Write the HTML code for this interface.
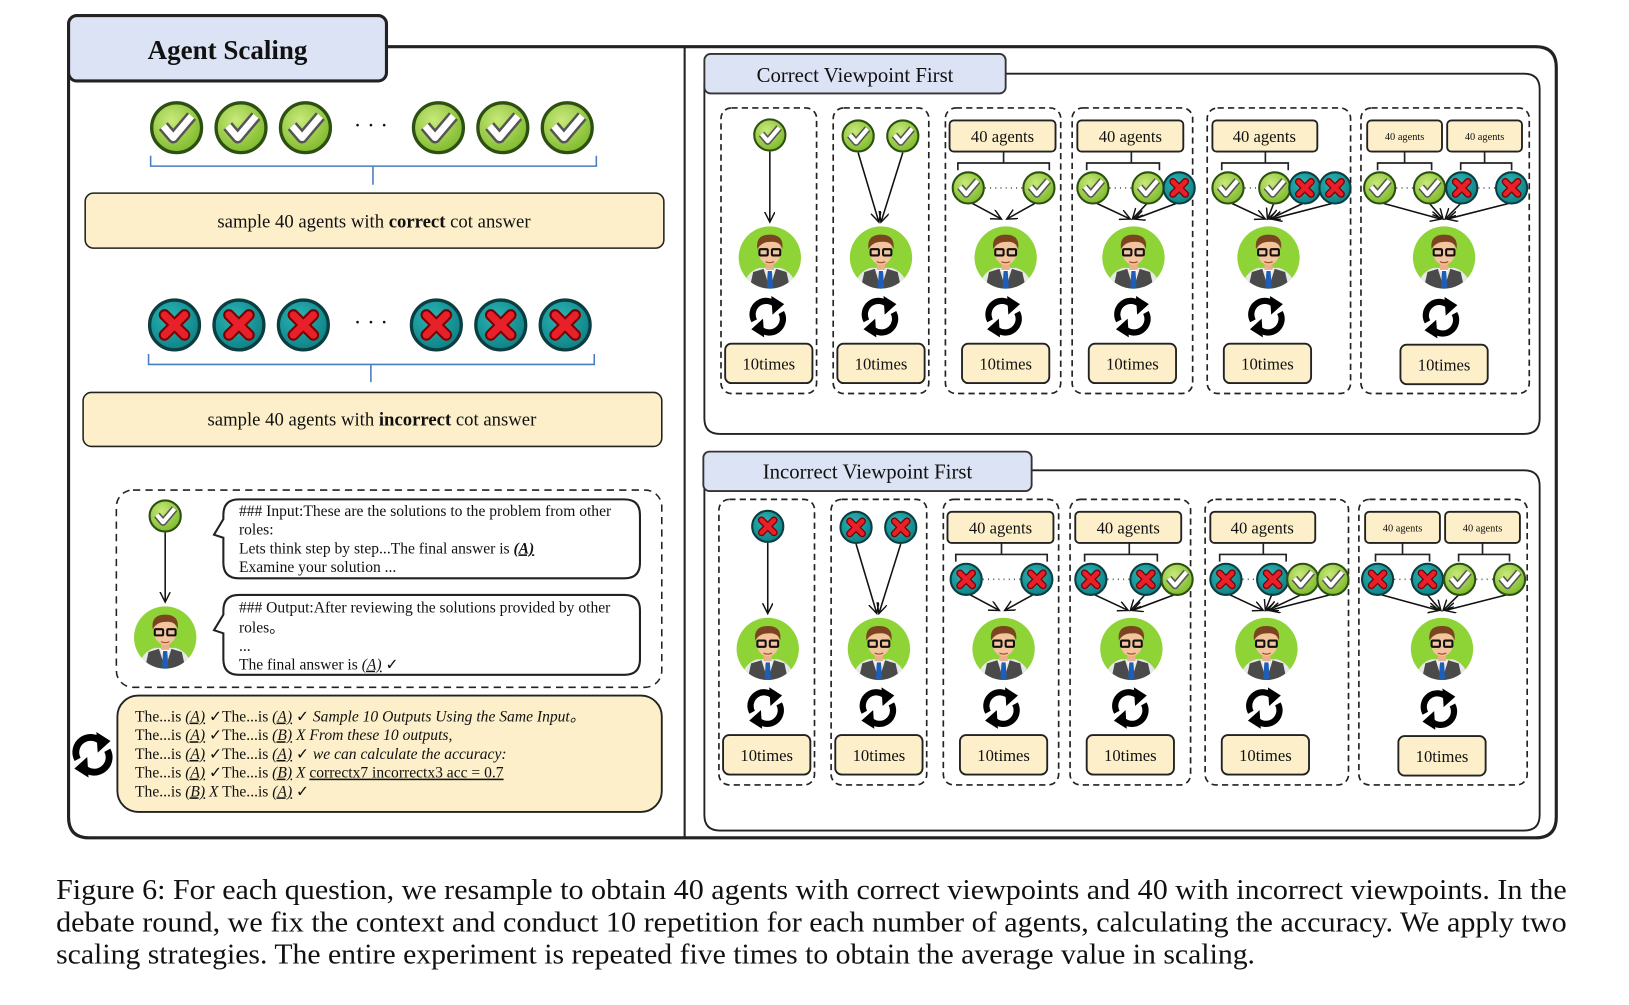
<!DOCTYPE html>
<html><head><meta charset="utf-8"><style>
html,body{margin:0;padding:0;background:#fff;width:1629px;height:1005px;overflow:hidden}
svg{display:block}
text{font-family:"Liberation Serif",serif;fill:#111}
</style></head><body>
<svg width="1629" height="1005" viewBox="0 0 1568 968" preserveAspectRatio="none" xmlns="http://www.w3.org/2000/svg">
<defs>
<radialGradient id="gg" cx="40%" cy="35%" r="70%"><stop offset="0" stop-color="#c8e97a"/><stop offset="1" stop-color="#7cb82a"/></radialGradient>
<radialGradient id="tg" cx="40%" cy="35%" r="70%"><stop offset="0" stop-color="#2ab5b5"/><stop offset="1" stop-color="#0d7f84"/></radialGradient>
<g id="ck"><circle r="15" fill="url(#gg)" stroke="#2d4f12" stroke-width="2"/><path d="M-8,-1 L-2,6 L9,-7" fill="none" stroke="#555" stroke-width="7" stroke-linejoin="round"/><path d="M-8,-1 L-2,6 L9,-7" fill="none" stroke="#fff" stroke-width="4" stroke-linejoin="round"/></g>
<g id="xx"><circle r="15" fill="url(#tg)" stroke="#0a3e40" stroke-width="2"/><path d="M-6,-6 L6,6 M6,-6 L-6,6" stroke="#7a0000" stroke-width="7" stroke-linecap="round"/><path d="M-6,-6 L6,6 M6,-6 L-6,6" stroke="#e8202a" stroke-width="4.5" stroke-linecap="round"/></g>
<clipPath id="ac"><circle r="30"/></clipPath>
<g id="av"><circle r="30" fill="#8fd436"/><g clip-path="url(#ac)">
<path d="M-26,32 Q-24,14 -10,10 L10,10 Q24,14 26,32 Z" fill="#e8e8e8"/>
<path d="M-20,32 L-16,14 L-6,11 L0,30 L6,11 L16,14 L20,32 Z" fill="#4a4a4a"/>
<path d="M-5,11 L5,11 L0,19 Z" fill="#fff"/>
<path d="M-2,13 L2,13 L3,28 L0,31 L-3,28 Z" fill="#1d5fb8"/>
<rect x="-4" y="3" width="8" height="9" fill="#eab08a"/>
<ellipse cx="0" cy="-6" rx="11" ry="13" fill="#f4c49c"/>
<path d="M-12,-8 Q-14,-22 0,-22 Q14,-22 12,-8 Q10,-16 0,-15 Q-8,-15 -12,-8 Z" fill="#7a4520"/>
<rect x="-10" y="-8" width="8" height="6" rx="1" fill="none" stroke="#111" stroke-width="2"/><rect x="2" y="-8" width="8" height="6" rx="1" fill="none" stroke="#111" stroke-width="2"/>
<path d="M-4,4 Q0,6 4,4" stroke="#a05030" stroke-width="1.2" fill="none"/></g></g>
<g id="rf" fill="none" stroke="#000" stroke-width="6"><path d="M-13,4 A13,13 0 0 1 8,-11"/><path d="M13,-4 A13,13 0 0 1 -8,11"/><path d="M4,-19 L15,-12 L5,-3 Z" fill="#000" stroke-width="1"/><path d="M-4,19 L-15,12 L-5,3 Z" fill="#000" stroke-width="1"/></g>
<marker id="ar" markerWidth="12" markerHeight="12" refX="10" refY="5" orient="auto" markerUnits="userSpaceOnUse"><path d="M0,0 L10,5 L0,10" fill="none" stroke="#111" stroke-width="1.4"/></marker>
<g id="tbox"><rect width="84" height="38" rx="6" fill="#fcefc9" stroke="#222" stroke-width="1.8"/></g>
</defs>

<!-- main frame -->
<path d="M372,45 H1478 Q1498,45 1498,65 V787 Q1498,807 1478,807 H86 Q66,807 66,787 V65" fill="none" stroke="#222" stroke-width="3"/>
<rect x="66" y="15" width="306" height="63" rx="8" fill="#dbe3f5" stroke="#222" stroke-width="3"/>
<text x="219" y="57" font-size="26" font-weight="bold" text-anchor="middle">Agent Scaling</text>
<line x1="659" y1="45" x2="659" y2="807" stroke="#222" stroke-width="2"/>

<!-- left: correct row -->
<use href="#ck" transform="translate(170,123) scale(1.6)"/><use href="#ck" transform="translate(232,123) scale(1.6)"/><use href="#ck" transform="translate(294,123) scale(1.6)"/>
<text x="357" y="128" font-size="22" text-anchor="middle">· · ·</text>
<use href="#ck" transform="translate(422,123) scale(1.6)"/><use href="#ck" transform="translate(484,123) scale(1.6)"/><use href="#ck" transform="translate(546,123) scale(1.6)"/>
<path d="M145,150 V160 H574 V150 M359,160 V178" fill="none" stroke="#4a7cc0" stroke-width="1.5"/>
<rect x="82" y="186" width="557" height="53" rx="8" fill="#fcefc9" stroke="#222" stroke-width="1.5"/>
<text x="360" y="219" font-size="18" text-anchor="middle">sample 40 agents with <tspan font-weight="bold">correct</tspan> cot answer</text>

<use href="#xx" transform="translate(168,313) scale(1.6)"/><use href="#xx" transform="translate(230,313) scale(1.6)"/><use href="#xx" transform="translate(292,313) scale(1.6)"/>
<text x="357" y="318" font-size="22" text-anchor="middle">· · ·</text>
<use href="#xx" transform="translate(420,313) scale(1.6)"/><use href="#xx" transform="translate(482,313) scale(1.6)"/><use href="#xx" transform="translate(544,313) scale(1.6)"/>
<path d="M143,341 V351 H572 V341 M357,351 V368" fill="none" stroke="#4a7cc0" stroke-width="1.5"/>
<rect x="80" y="378" width="557" height="52" rx="8" fill="#fcefc9" stroke="#222" stroke-width="1.5"/>
<text x="358" y="410" font-size="18" text-anchor="middle">sample 40 agents with <tspan font-weight="bold">incorrect</tspan> cot answer</text>

<!-- dashed example -->
<rect x="112" y="472" width="525" height="190" rx="16" fill="none" stroke="#222" stroke-width="1.5" stroke-dasharray="7,5"/>
<use href="#ck" transform="translate(159,497)"/>
<line x1="159" y1="513" x2="159" y2="580" stroke="#111" stroke-width="1.5" marker-end="url(#ar)"/>
<use href="#av" transform="translate(159,614)"/>
<path d="M230,481 H601 Q616,481 616,496 V542 Q616,557 601,557 H230 Q215,557 215,542 V518 L206,515 L215,500 V496 Q215,481 230,481 Z" fill="#fff" stroke="#222" stroke-width="2"/>
<g font-size="15"><text x="230" y="497">### Input:These are the solutions to the problem from other</text><text x="230" y="515">roles:</text><text x="230" y="533">Lets think step by step...The final answer is <tspan font-weight="bold" font-style="italic" text-decoration="underline">(A)</tspan></text><text x="230" y="551">Examine your solution ...</text></g>
<path d="M230,573 H601 Q616,573 616,588 V635 Q616,650 601,650 H230 Q215,650 215,635 V610 L206,607 L215,592 V588 Q215,573 230,573 Z" fill="#fff" stroke="#222" stroke-width="2"/>
<g font-size="15"><text x="230" y="590">### Output:After reviewing the solutions provided by other</text><text x="230" y="609">roles。</text><text x="230" y="627">...</text><text x="230" y="645">The final answer is <tspan font-style="italic" text-decoration="underline">(A)</tspan> ✓</text></g>

<rect x="113" y="670" width="524" height="112" rx="20" fill="#fcefc9" stroke="#222" stroke-width="1.8"/>
<use href="#rf" transform="translate(89,727) scale(1.1)"/>
<g font-size="15">
<text x="130" y="695">The...is <tspan font-style="italic" text-decoration="underline">(A)</tspan> ✓The...is <tspan font-style="italic" text-decoration="underline">(A)</tspan> ✓ <tspan font-style="italic">Sample 10 Outputs Using the Same Input。</tspan></text>
<text x="130" y="713">The...is <tspan font-style="italic" text-decoration="underline">(A)</tspan> ✓The...is <tspan font-style="italic" text-decoration="underline">(B)</tspan> <tspan font-style="italic">X   From these 10 outputs,</tspan></text>
<text x="130" y="731">The...is <tspan font-style="italic" text-decoration="underline">(A)</tspan> ✓The...is <tspan font-style="italic" text-decoration="underline">(A)</tspan> ✓ <tspan font-style="italic">we can calculate the accuracy:</tspan></text>
<text x="130" y="749">The...is <tspan font-style="italic" text-decoration="underline">(A)</tspan> ✓The...is <tspan font-style="italic" text-decoration="underline">(B)</tspan> <tspan font-style="italic">X</tspan> <tspan text-decoration="underline">correctx7 incorrectx3 acc = 0.7</tspan></text>
<text x="130" y="767">The...is <tspan font-style="italic" text-decoration="underline">(B)</tspan> <tspan font-style="italic">X</tspan> The...is <tspan font-style="italic" text-decoration="underline">(A)</tspan> ✓</text>
</g>

<!-- Correct panel -->
<path d="M968,71 H1467 Q1482,71 1482,86 V403 Q1482,418 1467,418 H693 Q678,418 678,403 V80" fill="none" stroke="#222" stroke-width="1.8"/>
<rect x="678" y="52" width="290" height="38" rx="6" fill="#dbe3f5" stroke="#333" stroke-width="1.8"/>
<text x="823" y="79" font-size="20" text-anchor="middle">Correct Viewpoint First</text>

<g id="p1">
<g fill="none" stroke="#222" stroke-width="1.6" stroke-dasharray="6,4">
<rect x="694" y="104" width="92" height="275" rx="10"/><rect x="802" y="104" width="92" height="275" rx="10"/><rect x="910" y="104" width="111" height="275" rx="10"/><rect x="1032" y="104" width="116" height="275" rx="10"/><rect x="1162" y="104" width="138" height="275" rx="10"/><rect x="1310" y="104" width="162" height="275" rx="10"/></g>
<g stroke="#111" stroke-width="1.5" marker-end="url(#ar)">
<line x1="741" y1="146" x2="741" y2="214"/>
<line x1="826" y1="147" x2="846" y2="214"/><line x1="869" y1="147" x2="848" y2="214"/>
<line x1="936" y1="196" x2="964" y2="211"/><line x1="996" y1="196" x2="969" y2="211"/>
<line x1="1056" y1="196" x2="1088" y2="211"/><line x1="1104" y1="196" x2="1090" y2="211"/><line x1="1132" y1="196" x2="1092" y2="211"/>
<line x1="1186" y1="196" x2="1218" y2="211"/><line x1="1226" y1="196" x2="1220" y2="211"/><line x1="1254" y1="196" x2="1222" y2="211"/><line x1="1282" y1="196" x2="1224" y2="211"/>
<line x1="1332" y1="196" x2="1387" y2="211"/><line x1="1376" y1="196" x2="1389" y2="211"/><line x1="1406" y1="196" x2="1391" y2="211"/><line x1="1452" y1="196" x2="1393" y2="211"/>
</g>
<g fill="#fcefc9" stroke="#222" stroke-width="1.8">
<rect x="914" y="116" width="102" height="30" rx="4"/><rect x="1037" y="116" width="102" height="30" rx="4"/><rect x="1167" y="116" width="101" height="30" rx="4"/><rect x="1316" y="116" width="72" height="30" rx="4"/><rect x="1393" y="116" width="72" height="30" rx="4"/></g>
<g font-size="16" text-anchor="middle"><text x="965" y="137">40 agents</text><text x="1088" y="137">40 agents</text><text x="1217" y="137">40 agents</text></g>
<g font-size="10" text-anchor="middle"><text x="1352" y="135">40 agents</text><text x="1429" y="135">40 agents</text></g>
<path d="M966,146V157 M922,164V157H1010V164 M1089,146V157 M1046,164V157H1116V164 M1218,146V157 M1176,164V157H1240V164 M1352,146V157 M1326,164V157H1378V164 M1429,146V157 M1406,164V157H1455V164" fill="none" stroke="#222" stroke-width="1.6"/>
<g stroke="#555" stroke-dasharray="1,4" stroke-width="1.5"><line x1="948" y1="181" x2="985" y2="181"/><line x1="1068" y1="181" x2="1090" y2="181"/><line x1="1198" y1="181" x2="1212" y2="181"/><line x1="1344" y1="181" x2="1360" y2="181"/><line x1="1423" y1="181" x2="1440" y2="181"/></g>
<use href="#ck" transform="translate(741,130)"/>
<use href="#ck" transform="translate(826,131)"/><use href="#ck" transform="translate(869,131)"/>
<use href="#ck" transform="translate(932,181)"/><use href="#ck" transform="translate(1000,181)"/>
<use href="#ck" transform="translate(1052,181)"/><use href="#ck" transform="translate(1105,181)"/><use href="#xx" transform="translate(1135,181)"/>
<use href="#ck" transform="translate(1182,181)"/><use href="#ck" transform="translate(1227,181)"/><use href="#xx" transform="translate(1256,181)"/><use href="#xx" transform="translate(1285,181)"/>
<use href="#ck" transform="translate(1328,181)"/><use href="#ck" transform="translate(1376,181)"/><use href="#xx" transform="translate(1407,181)"/><use href="#xx" transform="translate(1455,181)"/>
<use href="#av" transform="translate(741,248)"/><use href="#av" transform="translate(848,248)"/><use href="#av" transform="translate(968,248)"/><use href="#av" transform="translate(1091,248)"/><use href="#av" transform="translate(1221,248)"/><use href="#av" transform="translate(1390,248)"/>
<use href="#rf" transform="translate(739,305)"/><use href="#rf" transform="translate(847,305)"/><use href="#rf" transform="translate(966,305)"/><use href="#rf" transform="translate(1090,305)"/><use href="#rf" transform="translate(1219,305)"/><use href="#rf" transform="translate(1387,306)"/>
<use href="#tbox" transform="translate(698,331)"/><use href="#tbox" transform="translate(806,331)"/><use href="#tbox" transform="translate(926,331)"/><use href="#tbox" transform="translate(1048,331)"/><use href="#tbox" transform="translate(1178,331)"/><use href="#tbox" transform="translate(1348,332)"/>
<g font-size="16" text-anchor="middle"><text x="740" y="356">10times</text><text x="848" y="356">10times</text><text x="968" y="356">10times</text><text x="1090" y="356">10times</text><text x="1220" y="356">10times</text><text x="1390" y="357">10times</text></g>
</g>

<!-- Incorrect panel -->
<path d="M993,453 H1467 Q1482,453 1482,468 V785 Q1482,800 1467,800 H693 Q678,800 678,785 V462" fill="none" stroke="#222" stroke-width="1.8"/>
<rect x="677" y="435" width="316" height="38" rx="6" fill="#dbe3f5" stroke="#333" stroke-width="1.8"/>
<text x="835" y="461" font-size="20" text-anchor="middle">Incorrect Viewpoint First</text>

<g transform="translate(-2,377)">
<g fill="none" stroke="#222" stroke-width="1.6" stroke-dasharray="6,4">
<rect x="694" y="104" width="92" height="275" rx="10"/><rect x="802" y="104" width="92" height="275" rx="10"/><rect x="910" y="104" width="111" height="275" rx="10"/><rect x="1032" y="104" width="116" height="275" rx="10"/><rect x="1162" y="104" width="138" height="275" rx="10"/><rect x="1310" y="104" width="162" height="275" rx="10"/></g>
<g stroke="#111" stroke-width="1.5" marker-end="url(#ar)">
<line x1="741" y1="146" x2="741" y2="214"/>
<line x1="826" y1="147" x2="846" y2="214"/><line x1="869" y1="147" x2="848" y2="214"/>
<line x1="936" y1="196" x2="964" y2="211"/><line x1="996" y1="196" x2="969" y2="211"/>
<line x1="1056" y1="196" x2="1088" y2="211"/><line x1="1104" y1="196" x2="1090" y2="211"/><line x1="1132" y1="196" x2="1092" y2="211"/>
<line x1="1186" y1="196" x2="1218" y2="211"/><line x1="1226" y1="196" x2="1220" y2="211"/><line x1="1254" y1="196" x2="1222" y2="211"/><line x1="1282" y1="196" x2="1224" y2="211"/>
<line x1="1332" y1="196" x2="1387" y2="211"/><line x1="1376" y1="196" x2="1389" y2="211"/><line x1="1406" y1="196" x2="1391" y2="211"/><line x1="1452" y1="196" x2="1393" y2="211"/>
</g>
<g fill="#fcefc9" stroke="#222" stroke-width="1.8">
<rect x="914" y="116" width="102" height="30" rx="4"/><rect x="1037" y="116" width="102" height="30" rx="4"/><rect x="1167" y="116" width="101" height="30" rx="4"/><rect x="1316" y="116" width="72" height="30" rx="4"/><rect x="1393" y="116" width="72" height="30" rx="4"/></g>
<g font-size="16" text-anchor="middle"><text x="965" y="137">40 agents</text><text x="1088" y="137">40 agents</text><text x="1217" y="137">40 agents</text></g>
<g font-size="10" text-anchor="middle"><text x="1352" y="135">40 agents</text><text x="1429" y="135">40 agents</text></g>
<path d="M966,146V157 M922,164V157H1010V164 M1089,146V157 M1046,164V157H1116V164 M1218,146V157 M1176,164V157H1240V164 M1352,146V157 M1326,164V157H1378V164 M1429,146V157 M1406,164V157H1455V164" fill="none" stroke="#222" stroke-width="1.6"/>
<g stroke="#555" stroke-dasharray="1,4" stroke-width="1.5"><line x1="948" y1="181" x2="985" y2="181"/><line x1="1068" y1="181" x2="1090" y2="181"/><line x1="1198" y1="181" x2="1212" y2="181"/><line x1="1344" y1="181" x2="1360" y2="181"/><line x1="1423" y1="181" x2="1440" y2="181"/></g>
<use href="#xx" transform="translate(741,130)"/>
<use href="#xx" transform="translate(826,131)"/><use href="#xx" transform="translate(869,131)"/>
<use href="#xx" transform="translate(932,181)"/><use href="#xx" transform="translate(1000,181)"/>
<use href="#xx" transform="translate(1052,181)"/><use href="#xx" transform="translate(1105,181)"/><use href="#ck" transform="translate(1135,181)"/>
<use href="#xx" transform="translate(1182,181)"/><use href="#xx" transform="translate(1227,181)"/><use href="#ck" transform="translate(1256,181)"/><use href="#ck" transform="translate(1285,181)"/>
<use href="#xx" transform="translate(1328,181)"/><use href="#xx" transform="translate(1376,181)"/><use href="#ck" transform="translate(1407,181)"/><use href="#ck" transform="translate(1455,181)"/>
<use href="#av" transform="translate(741,248)"/><use href="#av" transform="translate(848,248)"/><use href="#av" transform="translate(968,248)"/><use href="#av" transform="translate(1091,248)"/><use href="#av" transform="translate(1221,248)"/><use href="#av" transform="translate(1390,248)"/>
<use href="#rf" transform="translate(739,305)"/><use href="#rf" transform="translate(847,305)"/><use href="#rf" transform="translate(966,305)"/><use href="#rf" transform="translate(1090,305)"/><use href="#rf" transform="translate(1219,305)"/><use href="#rf" transform="translate(1387,306)"/>
<use href="#tbox" transform="translate(698,331)"/><use href="#tbox" transform="translate(806,331)"/><use href="#tbox" transform="translate(926,331)"/><use href="#tbox" transform="translate(1048,331)"/><use href="#tbox" transform="translate(1178,331)"/><use href="#tbox" transform="translate(1348,332)"/>
<g font-size="16" text-anchor="middle"><text x="740" y="356">10times</text><text x="848" y="356">10times</text><text x="968" y="356">10times</text><text x="1090" y="356">10times</text><text x="1220" y="356">10times</text><text x="1390" y="357">10times</text></g>
</g>

<!-- caption -->
<g font-size="27">
<text x="54" y="866" textLength="1454" lengthAdjust="spacingAndGlyphs">Figure 6: For each question, we resample to obtain 40 agents with correct viewpoints and 40 with incorrect viewpoints. In the</text>
<text x="54" y="897" textLength="1454" lengthAdjust="spacingAndGlyphs">debate round, we fix the context and conduct 10 repetition for each number of agents, calculating the accuracy. We apply two</text>
<text x="54" y="928" textLength="1154" lengthAdjust="spacingAndGlyphs">scaling strategies. The entire experiment is repeated five times to obtain the average value in scaling.</text>
</g>
</svg>
</body></html>
